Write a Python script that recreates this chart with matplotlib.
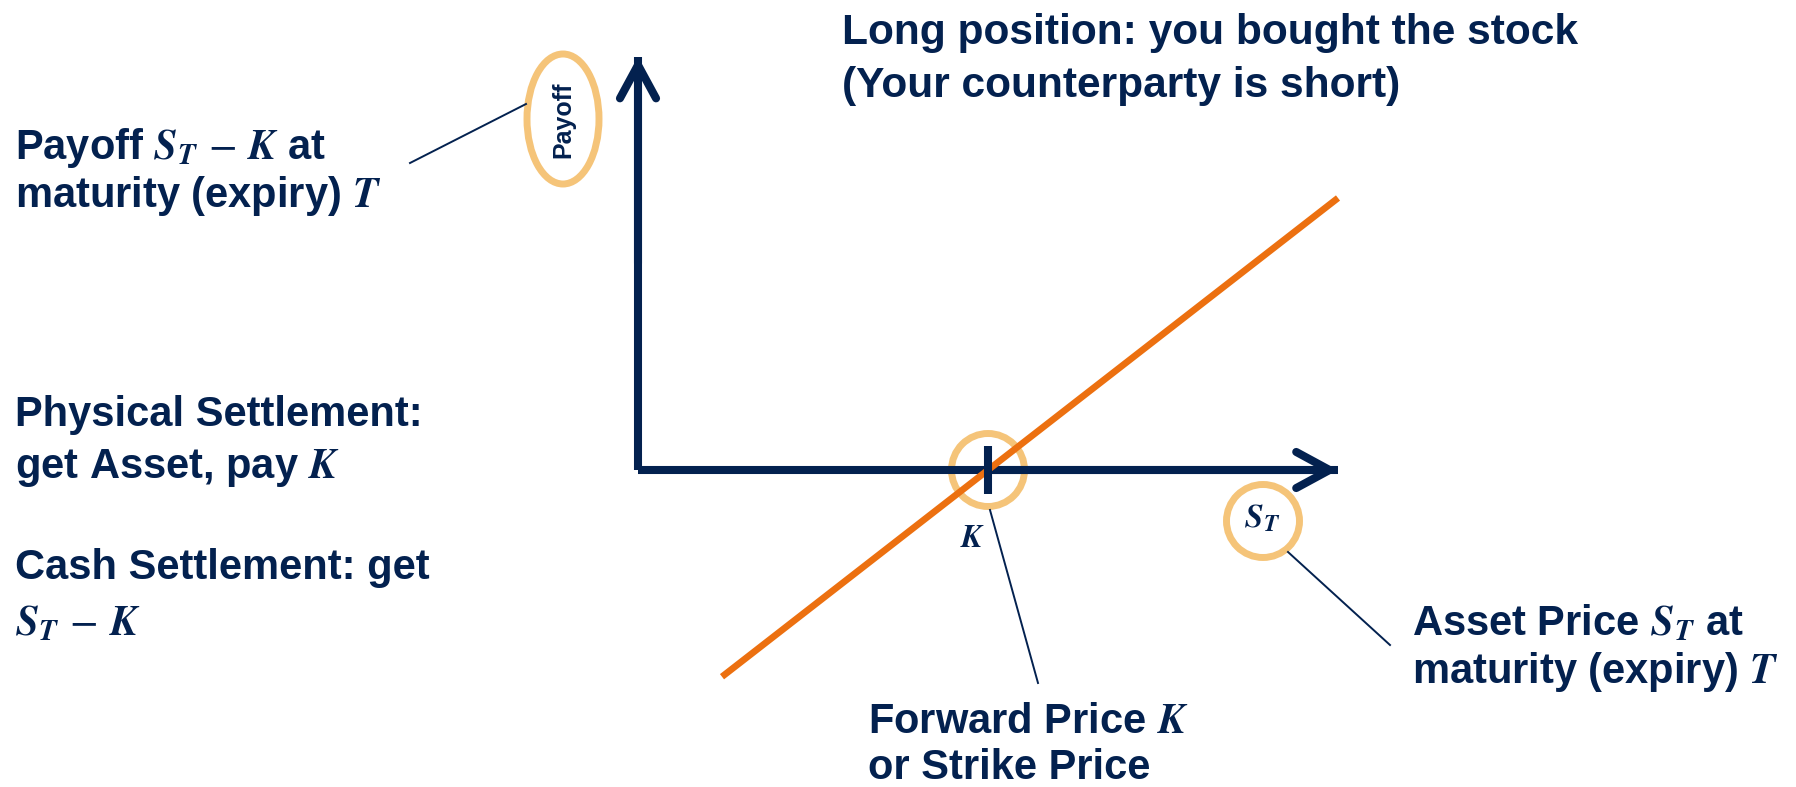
import matplotlib
matplotlib.use('Agg')
import matplotlib.pyplot as plt
import matplotlib.transforms as mtransforms
from matplotlib.patches import Ellipse, FancyArrowPatch, ArrowStyle
from matplotlib.lines import Line2D

plt.rcParams['font.family'] = ['Liberation Sans', 'DejaVu Sans']
plt.rcParams['mathtext.fontset'] = 'stix'

# payoff diagram: asset price S_T on x, payoff on y
strike = 100
line_s = [24, 200]
line_payoff = [-76, 100]
x_axis_end = 200
y_axis_end = 152
tick_half = 9

ST = r'\mathbfit{S}_{\mathbfit{T}}'
KK = r'\mathbfit{K}'
TT = r'\mathbfit{T}'

title_lines = ['Long position: you bought the stock', '(Your counterparty is short)']
payoff_lines = [f'Payoff ${ST}\\,-\\,{KK}$ at', f'maturity (expiry) ${TT}$']
physical_lines = ['Physical Settlement:', f'get Asset, pay ${KK}$']
cash_lines = ['Cash Settlement: get', f'${ST}\\,-\\,{KK}$']
forward_lines = [f'Forward Price ${KK}$', 'or Strike Price']
asset_lines = [f'Asset Price ${ST}$ at', f'maturity (expiry) ${TT}$']

navy = '#03214F'
orange = '#EC7010'
ring = '#F5C479'

W, H = 1796, 787
fig = plt.figure(figsize=(W / 100, H / 100), dpi=100)
ax = fig.add_axes([0, 0, 1, 1])
ax.axis('off')

# pixel layout helper (origin top-left)
pix = mtransforms.Affine2D().scale(1 / W, -1 / H).translate(0, 1) + fig.transFigure

ox, oy = 638, 470
px_x, px_y = 3.5, 2.72
ax.set_xlim(-ox / px_x, (W - ox) / px_x)
ax.set_ylim(-(H - oy) / px_y, oy / px_y)

# axes
ax.plot([0, x_axis_end], [0, 0], color=navy, lw=5.8, solid_capstyle='butt', zorder=2)
ax.plot([0, 0], [0, y_axis_end], color=navy, lw=5.8, solid_capstyle='butt', zorder=2)
head = ArrowStyle('->', head_length=1.2, head_width=0.65)
for start, end in [((x_axis_end / 2, 0), (x_axis_end, 0)), ((0, y_axis_end / 2), (0, y_axis_end))]:
    ax.add_patch(FancyArrowPatch(start, end, arrowstyle=head, mutation_scale=20, lw=5.8,
                                 color=navy, shrinkA=0, shrinkB=0,
                                 capstyle='round', joinstyle='round', zorder=2))

# payoff line and strike tick
ax.plot(line_s, line_payoff, color=orange, lw=4.8, solid_capstyle='butt', zorder=3)
ax.plot([strike, strike], [-tick_half, tick_half], color=navy, lw=5.8,
        solid_capstyle='butt', zorder=4)

# highlight rings
ax.add_patch(Ellipse((strike, 0), 73 / px_x, 73 / px_y, fill=False, ec=ring, lw=5, zorder=1))
fig.add_artist(Ellipse((1263, 521), 73, 73, fill=False, ec=ring, lw=5, transform=pix))
fig.add_artist(Ellipse((563, 119), 72, 130, fill=False, ec=ring, lw=5, transform=pix))

# leader lines
for xs, ys in [([410, 526], [163, 104]), ([990, 1038], [510, 683]), ([1288, 1390], [552, 645])]:
    fig.add_artist(Line2D(xs, ys, color=navy, lw=1.4, transform=pix))

# small labels
fig.text(563, 120, 'Payoff', transform=pix, rotation=90, ha='center', va='center',
         fontsize=18, fontweight='bold', color=navy)
fig.text(973, 539, f'${KK}$', transform=pix, ha='center', va='center', fontsize=23, color=navy)
fig.text(1262, 519, f'${ST}$', transform=pix, ha='center', va='center', fontsize=24, color=navy)

# text blocks: (lines, left x, first baseline, line step, size)
blocks = [
    (title_lines, 842, 44, 53, 30.6),
    (payoff_lines, 15, 159, 48, 30),
    (physical_lines, 15, 426, 52, 30),
    (cash_lines, 15, 579, 56, 30),
    (forward_lines, 868, 733, 46, 30),
    (asset_lines, 1412, 635, 48, 30),
]
for lines, x, y0, step, size in blocks:
    for i, s in enumerate(lines):
        fig.text(x, y0 + i * step, s, transform=pix, ha='left', va='baseline',
                 fontsize=size, fontweight='bold', color=navy)

fig.savefig('out.png', dpi=100)
